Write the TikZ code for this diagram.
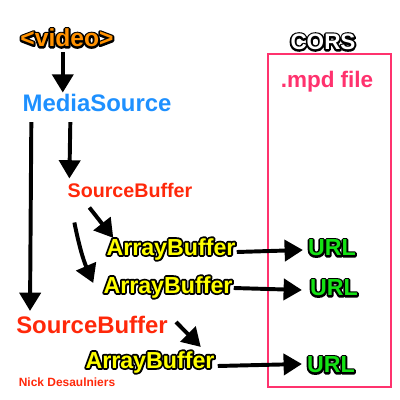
\documentclass[tikz,border=0pt]{standalone}
\usepackage{fontspec}
\setmainfont{Liberation Sans}
\usetikzlibrary{arrows.meta,calc}

\definecolor{vidorange}{RGB}{255,145,0}
\definecolor{msblue}{RGB}{30,144,255}
\definecolor{sbred}{RGB}{255,40,10}
\definecolor{abyellow}{RGB}{255,255,0}
\definecolor{urlgreen}{RGB}{20,225,20}
\definecolor{corspink}{RGB}{255,50,110}

% black rim drawn behind the glyphs, then the fill on top
\newcommand{\rimmed}[2]{\rlap{\special{pdf:literal direct 0 G 1 j 2.6 w 1 Tr}#2\special{pdf:literal direct 0 Tr 0.3985 w}}\textcolor{#1}{#2}}

\begin{document}
\begin{tikzpicture}[x=0.025cm,y=-0.025cm]
\tikzstyle{lbl} = [inner sep=0pt, font=\bfseries]
\tikzstyle{arr} = [draw, line width=2.8pt, -{Triangle[length=13pt,width=15pt]}]
\useasboundingbox (0,0) rectangle (400,400);

% top
\node [lbl] (video) at (67,38) {\fontsize{17.5}{17}\selectfont\rimmed{vidorange}{<video>}};
\node [lbl] (ms) at (97,103) {\fontsize{17}{17}\selectfont\textcolor{msblue}{MediaSource}};

% CORS box
\node [lbl] (cors) at (323,42) {\fontsize{16}{16}\selectfont\rimmed{white}{CORS}};
\node [draw=corspink, thick, minimum width=3.075cm, minimum height=8.325cm, inner sep=0pt] (box) at (329.5,220.5) {};
\node [lbl] (mpd) at (327,82) {\fontsize{16}{16}\selectfont\textcolor{corspink}{.mpd file}};

% first SourceBuffer
\node [lbl] (sbA) at (130,190) {\fontsize{14}{14}\selectfont\textcolor{sbred}{SourceBuffer}};
\node [lbl] (abA) at (171,249) {\fontsize{16.5}{16}\selectfont\rimmed{abyellow}{ArrayBuffer}};
\node [lbl] (urlA) at (332,248) {\fontsize{16.5}{16}\selectfont\rimmed{urlgreen}{URL}};
\node [lbl] (abB) at (168,287) {\fontsize{16.5}{16}\selectfont\rimmed{abyellow}{ArrayBuffer}};
\node [lbl] (urlB) at (334,288) {\fontsize{16.5}{16}\selectfont\rimmed{urlgreen}{URL}};

% second SourceBuffer
\node [lbl] (sbB) at (92,325) {\fontsize{17}{17}\selectfont\textcolor{sbred}{SourceBuffer}};
\node [lbl] (abC) at (150,362) {\fontsize{16.5}{16}\selectfont\rimmed{abyellow}{ArrayBuffer}};
\node [lbl] (urlC) at (331,365) {\fontsize{16.5}{16}\selectfont\rimmed{urlgreen}{URL}};

\node [lbl] (nick) at (67,382) {\fontsize{8.5}{8.5}\selectfont\textcolor{sbred}{Nick Desaulniers}};

% arrows
\path [arr] ([xshift=-3pt]video.south) ++(0,5) -- ([xshift=-3pt,yshift=1pt]video.south |- ms.north);
\path [arr] ($(ms.south west)+(9,10)$) -- ($(sbB.north west)+(14,-5)$);
\path [arr] ($(ms.south west)+(48,10)$) -- ($(sbA.north west)+(2,-4)$);
\path [arr] ($(sbA.south west)+(22,10)$) -- ($(abA.north west)+(7,0)$);
\path [arr] ($(sbA.south west)+(7,25)$) to[bend right=6] ($(abB.west)+(-10,-4)$);
\path [arr] ($(abA.east)+(1,3)$) -- ($(urlA.west)+(-5,2)$);
\path [arr] ($(abB.east)+(1,1)$) -- ($(urlB.west)+(-8,2)$);
\path [arr] ($(sbB.east)+(8,-3)$) -- ($(abC.north east)+(-14,-4)$);
\path [arr] ($(abC.east)+(3,4)$) -- ($(urlC.west)+(-5,-1)$);
\end{tikzpicture}
\end{document}
